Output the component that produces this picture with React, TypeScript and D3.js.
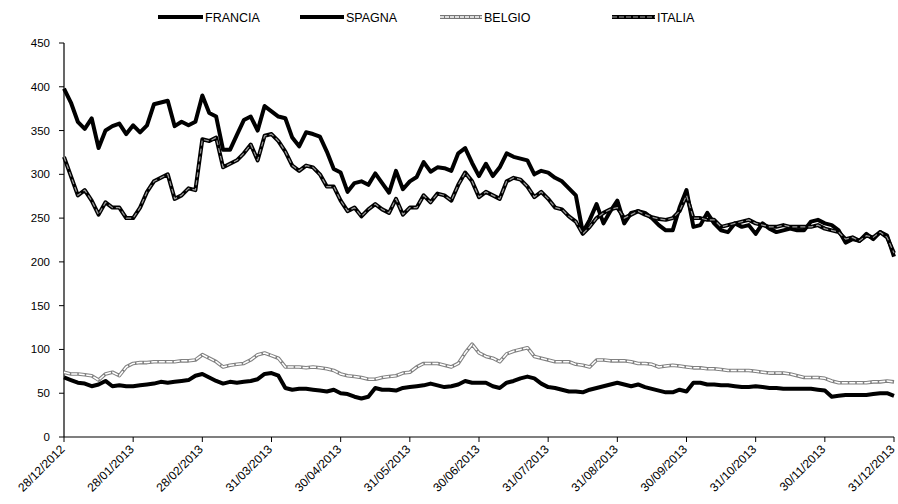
import React from "react";
import * as d3 from "d3";

const dateLabels = [
  "28/12/2012", "28/01/2013", "28/02/2013", "31/03/2013", "30/04/2013", "31/05/2013",
  "30/06/2013", "31/07/2013", "31/08/2013", "30/09/2013", "31/10/2013", "30/11/2013", "31/12/2013",
];
const yTicks = [0, 50, 100, 150, 200, 250, 300, 350, 400, 450];
const seriesNames = ["FRANCIA", "SPAGNA", "BELGIO", "ITALIA"];

const spagna = [
  398, 382, 360, 352, 364, 330, 350, 355, 358, 346,
  356, 348, 356, 380, 382, 384, 355, 360, 356, 360,
  390, 370, 366, 328, 328, 345, 362, 366, 350, 378,
  372, 366, 364, 342, 332, 348, 346, 343, 326, 306,
  302, 280, 290, 292, 288, 301, 290, 279, 304, 283,
  292, 297, 314, 303, 308, 307, 304, 324, 330, 313,
  298, 312, 298, 308, 324, 320, 318, 316, 300, 304,
  302, 296, 292, 284, 276, 234, 248, 266, 244, 258,
  270, 244, 256, 258, 256, 250, 242, 236, 236, 262,
  282, 240, 242, 256, 244, 236, 234, 244, 240, 242,
  232, 244, 238, 234, 236, 238, 236, 236, 246, 248,
  244, 242, 236, 222, 226, 224, 232, 226, 234, 230,
  206,
];
const italia = [
  320, 298, 276, 282, 270, 254, 268, 262, 262, 250,
  250, 262, 280, 292, 296, 300, 272, 276, 284, 282,
  340, 338, 342, 308, 312, 316, 324, 334, 316, 344,
  346, 338, 326, 310, 304, 310, 308, 300, 286, 286,
  270, 258, 262, 252, 260, 266, 260, 256, 272, 254,
  262, 262, 276, 268, 278, 276, 270, 288, 302, 292,
  274, 280, 276, 272, 292, 296, 294, 286, 274, 280,
  272, 262, 260, 252, 246, 232, 240, 250, 256, 260,
  262, 250, 254, 258, 254, 251, 249, 248, 250, 258,
  276, 250, 250, 248, 248, 240, 242, 244, 246, 248,
  244, 242, 240, 240, 242, 240, 240, 240, 240, 242,
  238, 236, 234, 226, 228, 224, 230, 228, 234, 228,
  210,
];
const francia = [
  68, 65, 62, 61, 58, 60, 64, 58, 59, 58,
  58, 59, 60, 61, 63, 62, 63, 64, 65, 70,
  72, 68, 64, 61, 63, 62, 63, 64, 66, 72,
  73, 70, 56, 54, 55, 55, 54, 53, 52, 54,
  50, 49, 46, 44, 46, 56, 54, 54, 53, 56,
  57, 58, 59, 61, 59, 57, 58, 60, 64, 62,
  62, 62, 58, 56, 62, 64, 67, 69, 67, 61,
  57, 56, 54, 52, 52, 51, 54, 56, 58, 60,
  62, 60, 58, 60, 57, 55, 53, 51, 51, 54,
  52, 62, 62, 60, 60, 59, 59, 58, 57, 57,
  58, 57, 56, 56, 55, 55, 55, 55, 55, 54,
  53, 46, 47, 48, 48, 48, 48, 49, 50, 50,
  47,
];
const belgio = [
  74, 72, 72, 71, 70, 65, 72, 74, 70, 80,
  84, 85, 85, 86, 86, 86, 86, 87, 87, 88,
  94, 90, 86, 80, 82, 83, 84, 88, 94, 96,
  93, 90, 80, 80, 80, 79, 80, 79, 78, 76,
  72, 70, 69, 68, 66, 66, 68, 69, 70, 73,
  74, 80, 84, 84, 84, 82, 80, 84, 96, 106,
  96, 92, 90, 86, 95, 98, 100, 102, 92, 90,
  88, 86, 86, 86, 83, 82, 80, 88, 88, 87,
  87, 87, 86, 84, 84, 83, 80, 81, 82, 81,
  80, 79, 79, 78, 78, 77, 76, 76, 76, 76,
  75, 74, 73, 73, 73, 72, 70, 68, 68, 68,
  67, 64, 62, 62, 62, 62, 62, 63, 63, 64,
  63,
];

const W = 898;
const H = 504;
const font = "'Liberation Sans', Arial, sans-serif";

export default function App() {
  const N = spagna.length;
  const x = d3.scaleLinear().domain([0, N - 1]).range([64, 894]);
  const y = d3.scaleLinear().domain([0, 450]).range([437, 43]);
  const line = d3
    .line<number>()
    .x((_, i) => x(i))
    .y((d) => y(d));

  const tickStep = (N - 1) / (dateLabels.length - 1);

  const legend = [
    { name: seriesNames[0], x0: 158, x1: 203, style: "solid" },
    { name: seriesNames[1], x0: 300, x1: 344, style: "solid" },
    { name: seriesNames[2], x0: 440, x1: 482, style: "belgio" },
    { name: seriesNames[3], x0: 612, x1: 655, style: "italia" },
  ];

  return (
    <svg
      width={W}
      height={H}
      style={{ position: "absolute", left: 0, top: 0, background: "#fff" }}
      fontFamily={font}
    >
      <rect x={0} y={0} width={W} height={H} fill="#fff" />
      {/* legend */}
      {legend.map((l) => (
        <g key={l.name}>
          {l.style === "solid" && (
            <line x1={l.x0} x2={l.x1} y1={17} y2={17} stroke="#000" strokeWidth={4} />
          )}
          {l.style === "belgio" && (
            <g>
              <line x1={l.x0} x2={l.x1} y1={17} y2={17} stroke="#777" strokeWidth={4} />
              <line x1={l.x0} x2={l.x1} y1={17} y2={17} stroke="#fff" strokeWidth={1.6} strokeDasharray="4 1" />
            </g>
          )}
          {l.style === "italia" && (
            <g>
              <line x1={l.x0} x2={l.x1} y1={17} y2={17} stroke="#000" strokeWidth={4} />
              <line x1={l.x0} x2={l.x1} y1={17} y2={17} stroke="#aaa" strokeWidth={1.2} strokeDasharray="5 2" />
            </g>
          )}
          <text x={l.x1 + 2} y={21.5} fontSize={12.5} fill="#000">
            {l.name}
          </text>
        </g>
      ))}

      {/* y axis */}
      <line x1={64} x2={64} y1={y(450)} y2={y(0)} stroke="#000" strokeWidth={1.2} />
      {yTicks.map((t) => (
        <g key={t}>
          <line x1={59} x2={64} y1={y(t)} y2={y(t)} stroke="#000" strokeWidth={1} />
          <text x={50} y={y(t) + 4} fontSize={11.5} textAnchor="end" fill="#000">
            {t}
          </text>
        </g>
      ))}

      {/* series */}
      <path d={line(francia) || ""} fill="none" stroke="#000" strokeWidth={4} strokeLinejoin="round" />
      <path d={line(spagna) || ""} fill="none" stroke="#000" strokeWidth={4} strokeLinejoin="round" />
      <path d={line(belgio) || ""} fill="none" stroke="#808080" strokeWidth={3.6} strokeLinejoin="round" />
      <path d={line(belgio) || ""} fill="none" stroke="#fff" strokeWidth={1.5} strokeLinejoin="round" strokeDasharray="6 1.5" />
      <path d={line(italia) || ""} fill="none" stroke="#000" strokeWidth={4} strokeLinejoin="round" />
      <path d={line(italia) || ""} fill="none" stroke="#9a9a9a" strokeWidth={1.2} strokeLinejoin="round" strokeDasharray="5 3" />

      {/* x axis */}
      <line x1={64} x2={894} y1={437} y2={437} stroke="#000" strokeWidth={1.2} />
      {dateLabels.map((lab, k) => {
        const px = x(k * tickStep);
        return (
          <g key={lab}>
            <line x1={px} x2={px} y1={437} y2={442} stroke="#000" strokeWidth={1} />
            <text
              transform={`translate(${px + 1.5},${450}) rotate(-45)`}
              fontSize={12}
              textAnchor="end"
              fill="#000"
            >
              {lab}
            </text>
          </g>
        );
      })}
    </svg>
  );
}
